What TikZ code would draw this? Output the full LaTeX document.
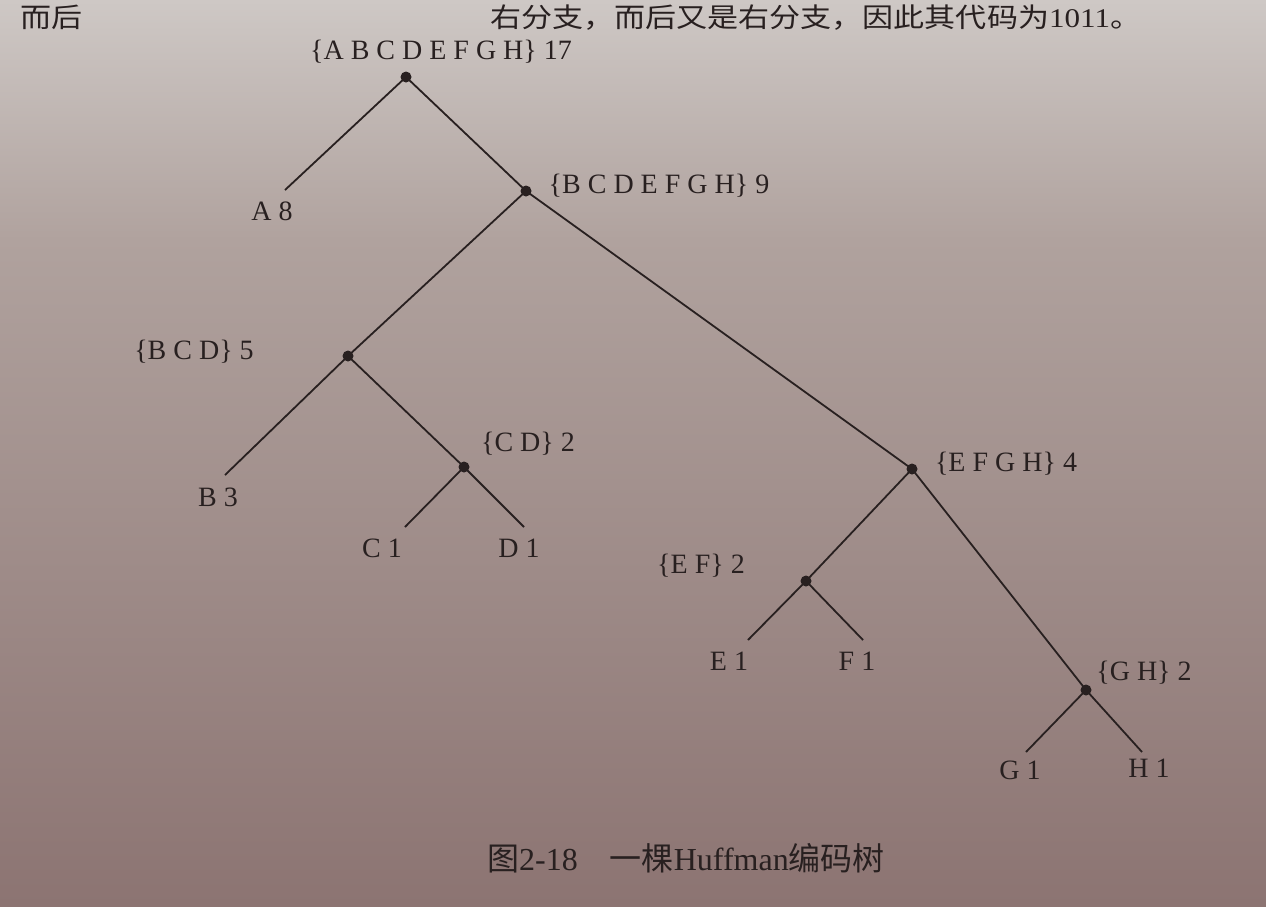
\documentclass[tikz,border=0pt]{standalone}
\usepackage{fontspec}
\usepackage{graphicx}
\setmainfont{Liberation Serif}
\newfontfamily\cjk{Noto Sans CJK SC}
\definecolor{ink}{RGB}{40,32,32}
\definecolor{bgtop}{RGB}{206,200,197}
\definecolor{bgmid}{RGB}{176,162,158}
\definecolor{bgdark}{RGB}{108,88,84}
\definecolor{bgbot}{RGB}{140,116,114}
\begin{document}
\begin{tikzpicture}[x=1pt,y=-1pt,
  inner/.style={circle,fill=ink,inner sep=0pt,minimum size=11pt},
  lbl/.style={text=ink,font=\fontsize{28}{32}\selectfont,inner sep=0pt},
  edge/.style={draw=ink,line width=1.8pt},
  topline/.style={anchor=base west,text=ink,inner sep=0pt,font=\fontsize{27}{30}\selectfont}]
\useasboundingbox (0,0) rectangle (1266,906);
\clip (0,0) rectangle (1266,906);
% background
\shade[top color=bgtop,bottom color=bgmid] (0,0) rectangle (1266,240);
\shade[top color=bgmid,middle color=bgdark,bottom color=bgbot] (0,239) rectangle (1266,906);
% text line at the top
\node[topline] (topl) at (20,27) {\scalebox{1.15}[1]{\cjk 而后}};
\node[topline] (topr) at (490,27) {\scalebox{1.15}[1]{\cjk 右分支，而后又是右分支，因此其代码为\rmfamily 1011\cjk 。}};
% internal nodes
\node[inner] (r) at (406,77) {};
\node[inner] (bh) at (526,191) {};
\node[inner] (bd) at (348,356) {};
\node[inner] (cd) at (464,467) {};
\node[inner] (eh) at (912,469) {};
\node[inner] (ef) at (806,581) {};
\node[inner] (gh) at (1086,690) {};
% leaf ends
\coordinate (a) at (285,190);
\coordinate (b) at (225,475);
\coordinate (c) at (405,527);
\coordinate (d) at (524,527);
\coordinate (e) at (748,640);
\coordinate (f) at (863,640);
\coordinate (g) at (1026,752);
\coordinate (h) at (1142,752);
% edges
\draw[edge] (r.center) -- (a);
\draw[edge] (r.center) -- (bh.center);
\draw[edge] (bh.center) -- (bd.center);
\draw[edge] (bh.center) -- (eh.center);
\draw[edge] (bd.center) -- (b);
\draw[edge] (bd.center) -- (cd.center);
\draw[edge] (cd.center) -- (c);
\draw[edge] (cd.center) -- (d);
\draw[edge] (eh.center) -- (ef.center);
\draw[edge] (eh.center) -- (gh.center);
\draw[edge] (ef.center) -- (e);
\draw[edge] (ef.center) -- (f);
\draw[edge] (gh.center) -- (g);
\draw[edge] (gh.center) -- (h);
% internal labels
\node[lbl] (rl) at (441,52) {\{A B C D E F G H\} 17};
\node[lbl] (bhl) at (659,186) {\{B C D E F G H\} 9};
\node[lbl] (bdl) at (194,352) {\{B C D\} 5};
\node[lbl] (cdl) at (528,444) {\{C D\} 2};
\node[lbl] (ehl) at (1006,464) {\{E F G H\} 4};
\node[lbl] (efl) at (701,566) {\{E F\} 2};
\node[lbl] (ghl) at (1144,673) {\{G H\} 2};
% leaf labels
\node[lbl] (al) at (272,211) {A 8};
\node[lbl] (bl) at (218,497) {B 3};
\node[lbl] (cl) at (382,548) {C 1};
\node[lbl] (dl) at (519,548) {D 1};
\node[lbl] (el) at (729,661) {E 1};
\node[lbl] (fl) at (857,661) {F 1};
\node[lbl] (gl) at (1020,770) {G 1};
\node[lbl] (hl) at (1149,768) {H 1};
% caption
\node[anchor=west,text=ink,inner sep=0pt,font=\fontsize{32}{36}\selectfont] (cap) at (487,858) {{\cjk 图}2-18\quad{\cjk 一棵}Huffman{\cjk 编码树}};
\end{tikzpicture}
\end{document}
